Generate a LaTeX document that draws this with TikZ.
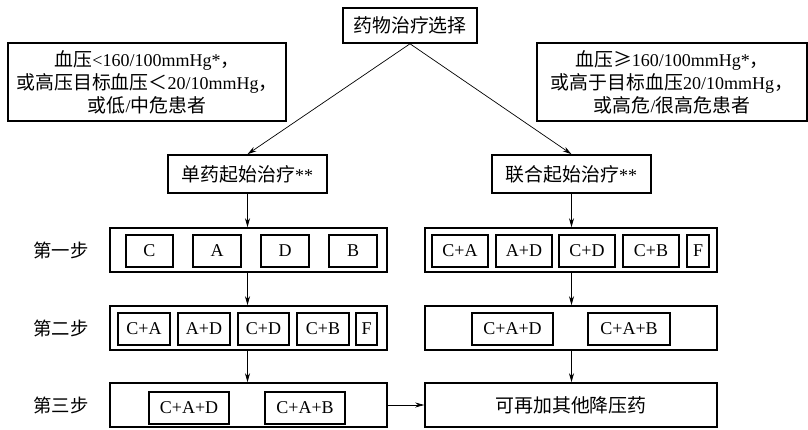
\documentclass[tikz,border=0pt]{standalone}
\usepackage{fontspec}
\setmainfont{Liberation Serif}
\newfontfamily\cjk[Scale=1.05]{Noto Sans CJK SC}
\usetikzlibrary{arrows.meta}
\newcommand\zh[1]{{\cjk #1}}
\newcommand\bx[6]{\node[box,minimum width={(#4)-(#2)},minimum height={(#5)-(#3)}] (#1) at ({((#2)+(#4))/2},{((#3)+(#5))/2}) {#6};}
\begin{document}
\begin{tikzpicture}[x=1pt,y=-1pt,
  box/.style={draw,line width=1.6pt,inner sep=0pt,align=center,font=\fontsize{18}{23}\selectfont},
  steplabel/.style={font=\cjk\fontsize{17.5}{20}\selectfont,inner sep=0pt},
  arr/.style={-{Stealth[length=9pt,width=5pt]},line width=0.7pt}]
\useasboundingbox (0,0) rectangle (808,430);
% top
\bx{top}{343}{8}{477}{43}{\zh{药物治疗选择}}
% conditions
\bx{lc}{8}{43}{286}{121}{\zh{血压}<160/100mmHg*\zh{，}\\\zh{或高压目标血压＜}20/10mmHg\zh{，}\\\zh{或低}/\zh{中危患者}}
\bx{rc}{537}{43}{807}{121}{\zh{血压≥}160/100mmHg*\zh{，}\\\zh{或高于目标血压}20/10mmHg\zh{，}\\\zh{或高危}/\zh{很高危患者}}
% start boxes
\bx{l0}{168}{155}{327}{193}{\zh{单药起始治疗}**}
\bx{r0}{492}{155}{651}{193}{\zh{联合起始治疗}**}
% left step 1
\bx{l1}{110}{228}{387}{272}{}
\bx{l1a}{126}{235}{173}{267}{C}
\bx{l1b}{193}{235}{241}{267}{A}
\bx{l1c}{261}{235}{309}{267}{D}
\bx{l1d}{329}{235}{377}{267}{B}
% left step 2
\bx{l2}{110}{306}{387}{350}{}
\bx{l2a}{118}{313}{170}{345}{C+A}
\bx{l2b}{178}{313}{230}{345}{A+D}
\bx{l2c}{238}{313}{289}{345}{C+D}
\bx{l2d}{297}{313}{349}{345}{C+B}
\bx{l2e}{356}{313}{377}{345}{F}
% left step 3
\bx{l3}{110}{383}{387}{427}{}
\bx{l3a}{149}{392}{229}{424}{C+A+D}
\bx{l3b}{265}{392}{345}{424}{C+A+B}
% right step 1
\bx{r1}{425}{228}{717}{272}{}
\bx{r1a}{432}{235}{488}{267}{C+A}
\bx{r1b}{496}{235}{552}{267}{A+D}
\bx{r1c}{559}{235}{615}{267}{C+D}
\bx{r1d}{623}{235}{679}{267}{C+B}
\bx{r1e}{687}{235}{709}{267}{F}
% right step 2
\bx{r2}{425}{306}{717}{350}{}
\bx{r2a}{472}{313}{553}{345}{C+A+D}
\bx{r2b}{588}{313}{670}{345}{C+A+B}
% right step 3
\bx{r3}{425}{383}{717}{427}{\zh{可再加其他降压药}}
% step labels
\node[steplabel] (s1) at (61,250) {第一步};
\node[steplabel] (s2) at (61,328) {第二步};
\node[steplabel] (s3) at (61,405) {第三步};
% arrows
\draw[arr] (top.south) -- (l0.north);
\draw[arr] (top.south) -- (r0.north);
\draw[arr] (l0.south) -- (l0.south |- l1.north);
\draw[arr] (l0.south |- l1.south) -- (l0.south |- l2.north);
\draw[arr] (l0.south |- l2.south) -- (l0.south |- l3.north);
\draw[arr] (r0.south) -- (r0.south |- r1.north);
\draw[arr] (r0.south |- r1.south) -- (r0.south |- r2.north);
\draw[arr] (r0.south |- r2.south) -- (r0.south |- r3.north);
\draw[arr] (l3.east) -- (r3.west);
\end{tikzpicture}
\end{document}
